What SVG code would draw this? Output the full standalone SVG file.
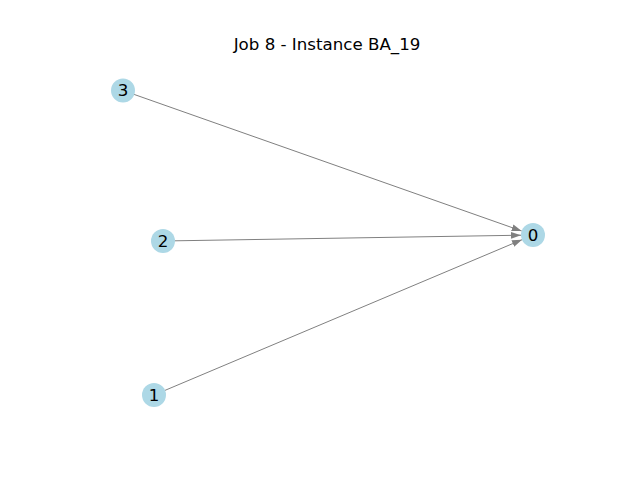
<svg xmlns="http://www.w3.org/2000/svg" width="640" height="480" viewBox="0 0 640 480">
<style>
.edge{stroke:#808080;stroke-width:1;fill:none}
.node circle{fill:#add8e6}
.node text,.title{font-family:"DejaVu Sans",sans-serif;font-size:16.67px;fill:#000;text-anchor:middle}
.node text{dominant-baseline:central}
</style>
<defs>
<marker id="arr" markerUnits="userSpaceOnUse" markerWidth="12" markerHeight="8" refX="10" refY="4" orient="auto">
<path d="M0,0.5 L10,4 L0,7.5 Z" fill="#808080"/>
</marker>
</defs>
<rect width="640" height="480" fill="#fff"/>
<text class="title" x="327" y="50">Job 8 - Instance BA_19</text>
<g id="edges">
<line class="edge" x1="123" y1="90.5" x2="521.7" y2="231" marker-end="url(#arr)"/>
<line class="edge" x1="163" y1="241" x2="521" y2="235.2" marker-end="url(#arr)"/>
<line class="edge" x1="154" y1="395" x2="522" y2="239.7" marker-end="url(#arr)"/>
</g>
<g id="node3" class="node"><circle cx="123" cy="90.5" r="12"/><text x="123" y="90.5">3</text></g>
<g id="node2" class="node"><circle cx="163" cy="241" r="12"/><text x="163" y="241">2</text></g>
<g id="node1" class="node"><circle cx="154" cy="395" r="12"/><text x="154" y="395">1</text></g>
<g id="node0" class="node"><circle cx="533" cy="235" r="12"/><text x="533" y="235">0</text></g>
</svg>
